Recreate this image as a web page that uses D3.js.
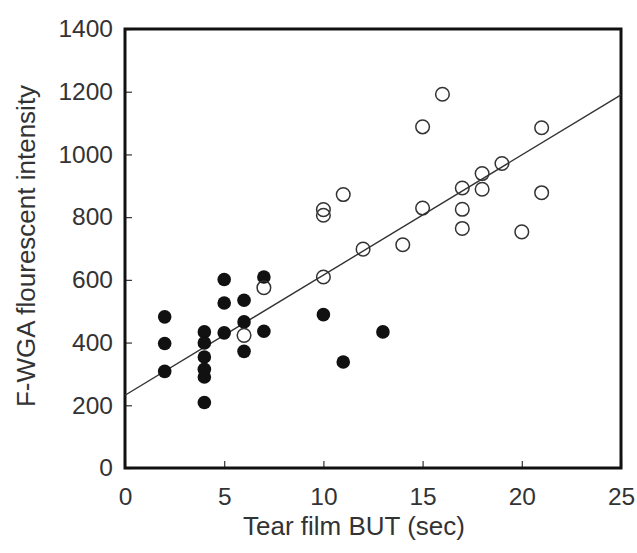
<!DOCTYPE html>
<html>
<head>
<meta charset="utf-8">
<script src="https://cdn.jsdelivr.net/npm/d3@7"></script>
<style>
  body { margin: 0; background: #fff; }
  svg text { font-family: "Liberation Sans", Arial, sans-serif; fill: #333; }
</style>
</head>
<body>
<svg id="chart"></svg>
<script>
const width = 637;
const height = 553;
const margin = { top: 29, right: 16, bottom: 85, left: 125 };

// filled circles (BUT, intensity)
const filledX = [2, 2, 2, 4, 4, 4, 4, 4, 4, 5, 5, 5, 6, 6, 6, 7, 7, 10, 11, 13];
const filledY = [482, 397, 308, 434, 399, 354, 315, 290, 209, 601, 526, 431, 535, 466, 372, 609, 436, 489, 338, 434];

// open circles
const openX = [6, 7, 10, 10, 10, 11, 12, 14, 15, 15, 16, 17, 17, 17, 18, 18, 19, 20, 21, 21];
const openY = [423, 575, 609, 806, 824, 872, 698, 712, 829, 1088, 1192, 893, 825, 764, 939, 889, 971, 753, 1085, 878];

// regression line end points
const fitX = [0, 25];
const fitY = [232, 1190];

const xTicks = [0, 5, 10, 15, 20, 25];
const yTicks = [0, 200, 400, 600, 800, 1000, 1200, 1400];

const innerW = width - margin.left - margin.right;
const innerH = height - margin.top - margin.bottom;

const svg = d3.select('#chart')
              .attr('width', width)
              .attr('height', height);

const g = svg.append('g')
             .attr('transform', `translate(${margin.left}, ${margin.top})`);

const xScale = d3.scaleLinear().domain([0, 25]).range([0, innerW]);
const yScale = d3.scaleLinear().domain([0, 1400]).range([innerH, 0]);

// ticks pointing inward
const xAxis = d3.axisBottom(xScale).tickValues(xTicks).tickSize(-7).tickPadding(20).tickFormat(d3.format('d'));
const yAxis = d3.axisLeft(yScale).tickValues(yTicks).tickSize(-7).tickPadding(12).tickFormat(d3.format('d'));

const xg = g.append('g').attr('transform', `translate(0, ${innerH})`).call(xAxis);
const yg = g.append('g').call(yAxis);

[xg, yg].forEach(a => {
  a.select('.domain').remove();
  a.selectAll('.tick line').attr('stroke', '#333').attr('stroke-width', 1.2);
  a.selectAll('.tick text').style('font-size', '24.5px').attr('fill', '#333');
});
xg.selectAll('.tick text').attr('dy', '0.71em');

// frame
g.append('rect')
 .attr('width', innerW)
 .attr('height', innerH)
 .attr('fill', 'none')
 .attr('stroke', '#111')
 .attr('stroke-width', 3);

// fit line
g.append('line')
 .attr('x1', xScale(fitX[0]))
 .attr('y1', yScale(fitY[0]))
 .attr('x2', xScale(fitX[1]))
 .attr('y2', yScale(fitY[1]))
 .attr('stroke', '#333')
 .attr('stroke-width', 1.4);

g.selectAll('.filled')
 .data(d3.range(filledX.length))
 .enter()
 .append('circle')
 .attr('class', 'filled')
 .attr('cx', i => xScale(filledX[i]))
 .attr('cy', i => yScale(filledY[i]))
 .attr('r', 6.8)
 .attr('fill', '#111');

g.selectAll('.open')
 .data(d3.range(openX.length))
 .enter()
 .append('circle')
 .attr('class', 'open')
 .attr('cx', i => xScale(openX[i]))
 .attr('cy', i => yScale(openY[i]))
 .attr('r', 6.8)
 .attr('fill', 'none')
 .attr('stroke', '#333')
 .attr('stroke-width', 1.5);

// axis titles
svg.append('text')
   .attr('x', 354)
   .attr('y', 535)
   .attr('text-anchor', 'middle')
   .style('font-size', '26px')
   .text('Tear film BUT (sec)');

svg.append('text')
   .attr('transform', 'translate(35, 246) rotate(-90)')
   .attr('text-anchor', 'middle')
   .style('font-size', '26px')
   .text('F-WGA flourescent intensity');
</script>
</body>
</html>
